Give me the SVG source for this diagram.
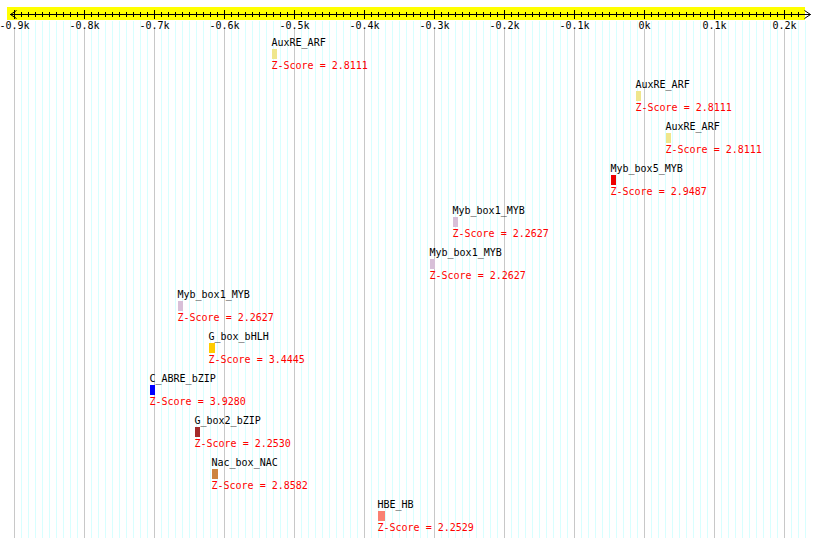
<svg xmlns="http://www.w3.org/2000/svg" width="820" height="547" viewBox="0 0 820 547">
<style>
text{font-family:"DejaVu Sans Mono","Liberation Mono",monospace;font-size:10px}
.lbl{fill:#000}
.z{fill:#ff0000}
.tk{fill:#000;text-anchor:middle}
.gl{fill:none;stroke-width:1;shape-rendering:crispEdges}
</style>
<rect width="820" height="547" fill="#fff"/>
<g id="grid">
<path class="gl" stroke="#d8ffff" d="M21.5 21v517M28.5 21v517M35.5 21v517M42.5 21v517M49.5 21v517M56.5 21v517M63.5 21v517M70.5 21v517M77.5 21v517M91.5 21v517M98.5 21v517M105.5 21v517M112.5 21v517M119.5 21v517M126.5 21v517M133.5 21v517M140.5 21v517M147.5 21v517M161.5 21v517M168.5 21v517M175.5 21v517M182.5 21v517M189.5 21v517M196.5 21v517M203.5 21v517M210.5 21v517M217.5 21v517M231.5 21v517M238.5 21v517M245.5 21v517M252.5 21v517M259.5 21v517M266.5 21v517M273.5 21v517M280.5 21v517M287.5 21v517M301.5 21v517M308.5 21v517M315.5 21v517M322.5 21v517M329.5 21v517M336.5 21v517M343.5 21v517M350.5 21v517M357.5 21v517M371.5 21v517M378.5 21v517M385.5 21v517M392.5 21v517M399.5 21v517M406.5 21v517M413.5 21v517M420.5 21v517M427.5 21v517M441.5 21v517M448.5 21v517M455.5 21v517M462.5 21v517M469.5 21v517M476.5 21v517M483.5 21v517M490.5 21v517M497.5 21v517M511.5 21v517M518.5 21v517M525.5 21v517M532.5 21v517M539.5 21v517M546.5 21v517M553.5 21v517M560.5 21v517M567.5 21v517M581.5 21v517M588.5 21v517M595.5 21v517M602.5 21v517M609.5 21v517M616.5 21v517M623.5 21v517M630.5 21v517M637.5 21v517M651.5 21v517M658.5 21v517M665.5 21v517M672.5 21v517M679.5 21v517M686.5 21v517M693.5 21v517M700.5 21v517M707.5 21v517M721.5 21v517M728.5 21v517M735.5 21v517M742.5 21v517M749.5 21v517M756.5 21v517M763.5 21v517M770.5 21v517M777.5 21v517M791.5 21v517M798.5 21v517M805.5 21v517"/>
<path class="gl" stroke="#c8c8c8" d="M14.5 29v509M84.5 29v509M154.5 29v509M224.5 29v509M294.5 29v509M364.5 29v509M434.5 29v509M504.5 29v509M574.5 29v509M644.5 29v509M714.5 29v509M784.5 29v509"/>
</g>
<g id="axis">
<rect x="7" y="7" width="798" height="13" fill="#ffff00"/>
<line x1="10" y1="14.5" x2="810.5" y2="14.5" stroke="#000" stroke-width="1"/>
<path class="gl" stroke="#000" d="M21.5 12v5M28.5 12v5M35.5 12v5M42.5 12v5M49.5 12v5M56.5 12v5M63.5 12v5M70.5 12v5M77.5 12v5M91.5 12v5M98.5 12v5M105.5 12v5M112.5 12v5M119.5 12v5M126.5 12v5M133.5 12v5M140.5 12v5M147.5 12v5M161.5 12v5M168.5 12v5M175.5 12v5M182.5 12v5M189.5 12v5M196.5 12v5M203.5 12v5M210.5 12v5M217.5 12v5M231.5 12v5M238.5 12v5M245.5 12v5M252.5 12v5M259.5 12v5M266.5 12v5M273.5 12v5M280.5 12v5M287.5 12v5M301.5 12v5M308.5 12v5M315.5 12v5M322.5 12v5M329.5 12v5M336.5 12v5M343.5 12v5M350.5 12v5M357.5 12v5M371.5 12v5M378.5 12v5M385.5 12v5M392.5 12v5M399.5 12v5M406.5 12v5M413.5 12v5M420.5 12v5M427.5 12v5M441.5 12v5M448.5 12v5M455.5 12v5M462.5 12v5M469.5 12v5M476.5 12v5M483.5 12v5M490.5 12v5M497.5 12v5M511.5 12v5M518.5 12v5M525.5 12v5M532.5 12v5M539.5 12v5M546.5 12v5M553.5 12v5M560.5 12v5M567.5 12v5M581.5 12v5M588.5 12v5M595.5 12v5M602.5 12v5M609.5 12v5M616.5 12v5M623.5 12v5M630.5 12v5M637.5 12v5M651.5 12v5M658.5 12v5M665.5 12v5M672.5 12v5M679.5 12v5M686.5 12v5M693.5 12v5M700.5 12v5M707.5 12v5M721.5 12v5M728.5 12v5M735.5 12v5M742.5 12v5M749.5 12v5M756.5 12v5M763.5 12v5M770.5 12v5M777.5 12v5M791.5 12v5M798.5 12v5"/>
<path class="gl" stroke="#000" d="M14.5 10v9M84.5 10v9M154.5 10v9M224.5 10v9M294.5 10v9M364.5 10v9M434.5 10v9M504.5 10v9M574.5 10v9M644.5 10v9M714.5 10v9M784.5 10v9"/>
<polyline points="16.5,10.5 10.5,14.5 16.5,18.5" fill="none" stroke="#000" stroke-width="1"/>
<polyline points="804.5,10.5 810.5,14.5 804.5,18.5" fill="none" stroke="#000" stroke-width="1"/>
<text class="tk" x="14.5" y="29">-0.9k</text>
<text class="tk" x="84.5" y="29">-0.8k</text>
<text class="tk" x="154.5" y="29">-0.7k</text>
<text class="tk" x="224.5" y="29">-0.6k</text>
<text class="tk" x="294.5" y="29">-0.5k</text>
<text class="tk" x="364.5" y="29">-0.4k</text>
<text class="tk" x="434.5" y="29">-0.3k</text>
<text class="tk" x="504.5" y="29">-0.2k</text>
<text class="tk" x="574.5" y="29">-0.1k</text>
<text class="tk" x="644.5" y="29">0k</text>
<text class="tk" x="714.5" y="29">0.1k</text>
<text class="tk" x="784.5" y="29">0.2k</text>
</g>
<g id="f1"><text class="lbl" x="271.5" y="46">AuxRE_ARF</text><rect x="272" y="49" width="5" height="10" fill="#f0e68c"/><text class="z" x="271.5" y="69">Z-Score = 2.8111</text></g>
<g id="f2"><text class="lbl" x="635.5" y="88">AuxRE_ARF</text><rect x="636" y="91" width="5" height="10" fill="#f0e68c"/><text class="z" x="635.5" y="111">Z-Score = 2.8111</text></g>
<g id="f3"><text class="lbl" x="665.5" y="130">AuxRE_ARF</text><rect x="666" y="133" width="5" height="10" fill="#f0e68c"/><text class="z" x="665.5" y="153">Z-Score = 2.8111</text></g>
<g id="f4"><text class="lbl" x="610.5" y="172">Myb_box5_MYB</text><rect x="611" y="175" width="5" height="10" fill="#ee0000"/><text class="z" x="610.5" y="195">Z-Score = 2.9487</text></g>
<g id="f5"><text class="lbl" x="452.5" y="214">Myb_box1_MYB</text><rect x="453" y="217" width="5" height="10" fill="#d8bfd8"/><text class="z" x="452.5" y="237">Z-Score = 2.2627</text></g>
<g id="f6"><text class="lbl" x="429.5" y="256">Myb_box1_MYB</text><rect x="430" y="259" width="5" height="10" fill="#d8bfd8"/><text class="z" x="429.5" y="279">Z-Score = 2.2627</text></g>
<g id="f7"><text class="lbl" x="177.5" y="298">Myb_box1_MYB</text><rect x="178" y="301" width="5" height="10" fill="#d8bfd8"/><text class="z" x="177.5" y="321">Z-Score = 2.2627</text></g>
<g id="f8"><text class="lbl" x="208.5" y="340">G_box_bHLH</text><rect x="209" y="343" width="6" height="10" fill="#ffcc00"/><text class="z" x="208.5" y="363">Z-Score = 3.4445</text></g>
<g id="f9"><text class="lbl" x="149.5" y="382">C_ABRE_bZIP</text><rect x="150" y="385" width="5" height="10" fill="#0000ff"/><text class="z" x="149.5" y="405">Z-Score = 3.9280</text></g>
<g id="f10"><text class="lbl" x="194.5" y="424">G_box2_bZIP</text><rect x="195" y="427" width="5" height="10" fill="#a52a2a"/><text class="z" x="194.5" y="447">Z-Score = 2.2530</text></g>
<g id="f11"><text class="lbl" x="211.5" y="466">Nac_box_NAC</text><rect x="212" y="469" width="6" height="10" fill="#cd853f"/><text class="z" x="211.5" y="489">Z-Score = 2.8582</text></g>
<g id="f12"><text class="lbl" x="377.5" y="508">HBE_HB</text><rect x="378" y="511" width="7" height="10" fill="#fa8072"/><text class="z" x="377.5" y="531">Z-Score = 2.2529</text></g>
<g id="connectors"/>
</svg>
